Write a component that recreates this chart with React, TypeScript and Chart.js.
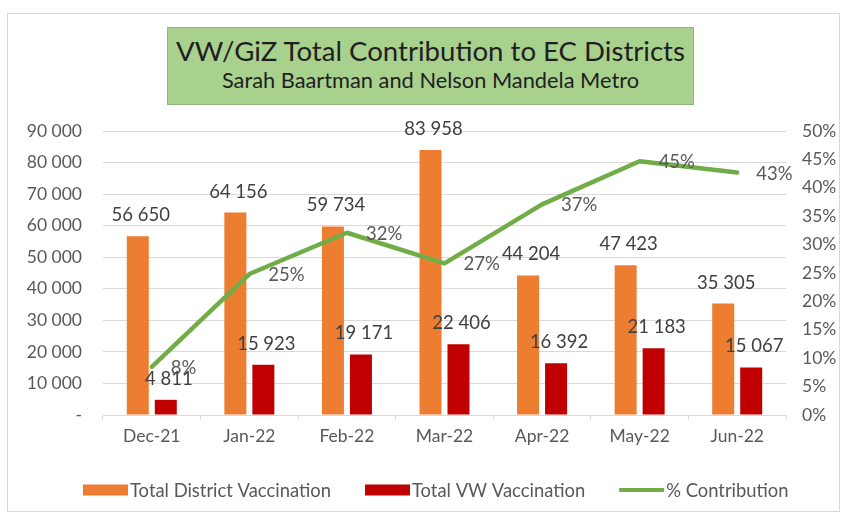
import React, { useEffect, useRef } from "react";
import { Chart, registerables } from "chart.js";

Chart.register(...registerables);

const categories = ["Dec-21", "Jan-22", "Feb-22", "Mar-22", "Apr-22", "May-22", "Jun-22"];
const totalDistrict = [56650, 64156, 59734, 83958, 44204, 47423, 35305];
const totalVW = [4811, 15923, 19171, 22406, 16392, 21183, 15067];
const contribution = [0.0849, 0.2482, 0.3209, 0.2669, 0.3708, 0.4467, 0.4268];
const seriesNames = ["Total District Vaccination", "Total VW Vaccination", "% Contribution"];
const titleText = "VW/GiZ Total Contribution to EC Districts";
const subtitleText = "Sarah Baartman and Nelson Mandela Metro";

const FONT = "Lato, 'Open Sans', sans-serif";
const fmtThousands = (v: number) => {
  const s = Math.round(v).toString();
  return s.replace(/\B(?=(\d{3})+(?!\d))/g, " ");
};
const fmtPct = (v: number) => Math.round(v * 100) + "%";

const labelsPlugin = {
  id: "valueLabels",
  afterDatasetsDraw(chart: any) {
    const ctx = chart.ctx;
    ctx.save();
    ctx.font = `18.5px ${FONT}`;
    ctx.textBaseline = "middle";
    chart.data.datasets.forEach((ds: any, i: number) => {
      const meta = chart.getDatasetMeta(i);
      meta.data.forEach((el: any, j: number) => {
        const v = ds.data[j];
        if (ds.type === "line") {
          ctx.fillStyle = "#595959";
          ctx.textAlign = "left";
          ctx.fillText(fmtPct(v), el.x + 19, el.y + 1);
        } else {
          ctx.fillStyle = "#404040";
          ctx.textAlign = "center";
          ctx.fillText(fmtThousands(v), el.x + 3, el.y - 21);
        }
      });
    });
    ctx.restore();
  },
};

const legendPlugin = {
  id: "customLegend",
  afterDraw(chart: any) {
    const ctx = chart.ctx;
    ctx.save();
    ctx.font = `18.4px ${FONT}`;
    ctx.textBaseline = "middle";
    ctx.textAlign = "left";
    let x = 83;
    const y = 490;
    chart.data.datasets.forEach((ds: any) => {
      if (ds.type === "line") {
        ctx.strokeStyle = ds.borderColor;
        ctx.lineWidth = 4;
        ctx.beginPath();
        ctx.moveTo(x, y);
        ctx.lineTo(x + 45, y);
        ctx.stroke();
      } else {
        ctx.fillStyle = ds.backgroundColor;
        ctx.fillRect(x, y - 5.5, 45, 11);
      }
      x += 47;
      ctx.fillStyle = "#595959";
      ctx.fillText(ds.label, x, y + 1);
      x += ctx.measureText(ds.label).width + 34;
    });
    ctx.restore();
  },
};

export default function App() {
  const ref = useRef<HTMLCanvasElement>(null);
  useEffect(() => {
    if (!ref.current) return;
    const chart = new Chart(ref.current, {
      type: "bar",
      data: {
        labels: categories,
        datasets: [
          {
            type: "bar",
            label: seriesNames[0],
            data: totalDistrict,
            backgroundColor: "#ed7d31",
            borderWidth: 0,
            yAxisID: "y",
            order: 1,
            categoryPercentage: 0.574,
            barPercentage: 0.786,
          },
          {
            type: "bar",
            label: seriesNames[1],
            data: totalVW,
            backgroundColor: "#c00000",
            borderWidth: 0,
            yAxisID: "y",
            order: 1,
            categoryPercentage: 0.574,
            barPercentage: 0.786,
          },
          {
            type: "line",
            label: seriesNames[2],
            data: contribution,
            borderColor: "#70ad47",
            backgroundColor: "#70ad47",
            borderWidth: 4.5,
            pointRadius: 0,
            tension: 0,
            yAxisID: "y1",
            order: 0,
            borderCapStyle: "round",
            borderJoinStyle: "round",
          } as any,
        ],
      },
      options: {
        responsive: false,
        animation: false,
        devicePixelRatio: 1,
        layout: { padding: { top: 131, bottom: 62, left: 0, right: 0 } },
        plugins: {
          legend: { display: false },
          tooltip: { enabled: false },
          title: { display: false },
        },
        scales: {
          x: {
            type: "category",
            grid: {
              display: true,
              drawOnChartArea: false,
              drawTicks: true,
              tickLength: 5,
              color: "#d9d9d9",
              offset: true,
            },
            border: { display: true, color: "#d9d9d9" },
            ticks: {
              color: "#595959",
              font: { family: FONT, size: 17.5 },
              padding: 6,
              maxRotation: 0,
            },
            afterFit: (s: any) => {
              s.height = 40;
            },
          },
          y: {
            type: "linear",
            position: "left",
            min: 0,
            max: 90000,
            grid: { color: "#d9d9d9", drawTicks: false },
            border: { display: false },
            ticks: {
              stepSize: 10000,
              color: "#595959",
              font: { family: FONT, size: 17.5 },
              padding: 21,
              callback: (v: any) => (v === 0 ? "-" : fmtThousands(v)),
            },
            afterFit: (s: any) => {
              s.width = 103;
            },
          },
          y1: {
            type: "linear",
            position: "right",
            min: 0,
            max: 0.5,
            grid: { display: false, drawTicks: false },
            border: { display: false },
            ticks: {
              stepSize: 0.05,
              color: "#595959",
              font: { family: FONT, size: 17.5 },
              padding: 16,
              callback: (v: any) => fmtPct(v),
            },
            afterFit: (s: any) => {
              s.width = 57;
            },
          },
        },
      },
      plugins: [labelsPlugin, legendPlugin],
    });
    return () => chart.destroy();
  }, []);

  return (
    <div style={{ position: "absolute", left: 0, top: 0, width: 843, height: 517, background: "#fff", overflow: "hidden" }}>
      <div
        style={{
          position: "absolute",
          left: 7,
          top: 13,
          width: 833,
          height: 499,
          border: "1px solid #d9d9d9",
          boxSizing: "border-box",
        }}
      />
      <canvas ref={ref} width={843} height={517} style={{ position: "absolute", left: 0, top: 0 }} />
      <div
        style={{
          position: "absolute",
          left: 167,
          top: 27,
          width: 527,
          height: 78,
          boxSizing: "border-box",
          background: "#a9d18e",
          border: "1px solid #93b57c",
          fontFamily: FONT,
          color: "#1f1f1f",
          textAlign: "center",
        }}
      >
        <div style={{ position: "absolute", left: 0, right: 0, top: 5, fontSize: 27.6, lineHeight: "36px", whiteSpace: "nowrap" }}>
          {titleText}
        </div>
        <div style={{ position: "absolute", left: 0, right: 0, top: 38, fontSize: 21.8, lineHeight: "28px", whiteSpace: "nowrap" }}>
          {subtitleText}
        </div>
      </div>
    </div>
  );
}
